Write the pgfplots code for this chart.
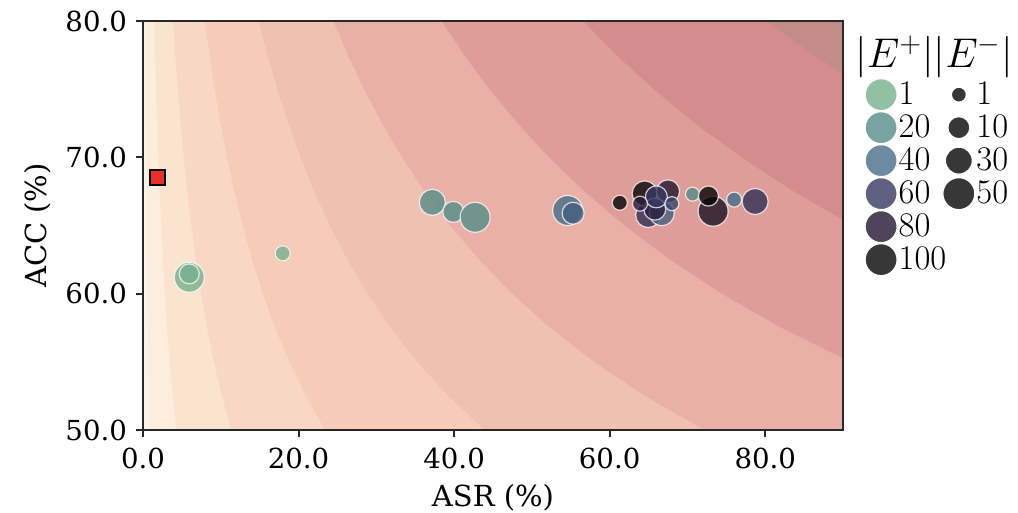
\documentclass[border=0pt]{standalone}
\usepackage{pgfplots}
\pgfplotsset{compat=1.18}
\usepackage{fontspec}
\setmainfont{DejaVu Serif}

% contour bands, light to dark
\definecolor{b0}{RGB}{253,243,230}
\definecolor{b1}{RGB}{252,237,221}
\definecolor{b2}{RGB}{250,228,207}
\definecolor{b3}{RGB}{248,216,196}
\definecolor{b4}{RGB}{246,203,183}
\definecolor{b5}{RGB}{240,192,177}
\definecolor{b6}{RGB}{234,175,166}
\definecolor{b7}{RGB}{223,157,153}
\definecolor{b8}{RGB}{212,140,140}
\definecolor{b9}{RGB}{194,140,137}
% |E+| colours
\definecolor{e1}{RGB}{119,176,143}
\definecolor{e20}{RGB}{85,140,136}
\definecolor{e40}{RGB}{71,110,138}
\definecolor{e60}{RGB}{55,56,99}
\definecolor{e80}{RGB}{35,21,48}
\definecolor{e100}{RGB}{5,5,5}
\definecolor{sqred}{RGB}{232,48,42}
\definecolor{frame}{RGB}{40,40,40}

\pgfplotstableread{
x y e r
5.95 61.2 1 7.5
5.95 61.45 1 5.0
17.96 62.96 1 3.75
37.2 66.7 20 6.5
39.9 66.0 20 5.25
42.7 65.6 20 7.5
54.6 66.1 40 7.5
55.3 65.9 45 5.5
61.3 66.67 100 3.75
64.95 65.77 65 6.25
66.7 65.9 45 6.25
64.5 67.35 100 6.25
67.5 67.5 80 5.75
65.8 66.2 75 5.5
66.0 67.1 60 5.5
63.9 66.6 75 3.75
68.0 66.6 55 3.5
70.65 67.3 20 3.5
73.3 66.05 85 7.5
72.7 67.16 100 5.0
76.0 66.9 40 3.75
78.7 66.76 65 6.5
}\points

\begin{document}
\begin{tikzpicture}
\begin{axis}[name=ax, scale only axis, width=350pt, height=204.5pt,
  xmin=0, xmax=90, ymin=50, ymax=80,
  xtick={0,20,40,60,80}, ytick={50,60,70,80},
  tick pos=left, tick align=outside, major tick length=3.5pt,
  every tick/.style={line width=1pt, color=frame},
  axis line style={line width=1pt, color=frame},
  axis on top,
  ticklabel style={font=\fontsize{13.8}{16}\selectfont},
  xticklabel style={yshift=-2pt},
  yticklabel style={xshift=-1pt},
  /pgf/number format/fixed, /pgf/number format/fixed zerofill,
  /pgf/number format/precision=1, /pgf/number format/assume math mode=true,
  xlabel={ASR (\%)}, ylabel={ACC (\%)},
  label style={font=\fontsize{14.5}{17}\selectfont},
  xlabel style={at={(axis description cs:0.5,0)}, anchor=base, yshift=-38.5pt},
  ylabel style={at={(axis description cs:-0.15,0.5)}, anchor=center},
  colormap={Eplus}{rgb255(1pt)=(119,176,143) rgb255(20pt)=(85,140,136)
    rgb255(40pt)=(71,110,138) rgb255(60pt)=(55,56,99) rgb255(80pt)=(35,21,48)
    rgb255(100pt)=(5,5,5)},
  point meta min=1, point meta max=100,
  legend columns=2,
  legend image code/.code={\draw[#1] plot coordinates {(0pt,0pt)};},
  legend style={at={(1.031,0.860)}, anchor=north west, draw=none, fill=none,
    inner sep=0pt, font=\fontsize{17}{19}\selectfont, row sep=0.5pt,
    cells={anchor=west}, nodes={inner sep=0.8pt},
    /tikz/every even column/.append style={column sep=-2.5pt}},
]
% filled contour bands
\addplot[fill=b0, draw=none, forget plot] coordinates {(-5,45) (200,45) (200,85) (-5,85)};
\addplot[fill=b1, draw=none, forget plot] coordinates {(0.30,80) (0.32,77.5) (0.35,75) (0.38,72.5) (0.41,70) (0.44,67.5) (0.48,65) (0.53,62.5) (0.58,60) (0.64,57.5) (0.71,55) (0.79,52.5) (0.88,50) (200,50) (200,80)};
\addplot[fill=b2, draw=none, forget plot] coordinates {(1.45,80) (1.56,77.5) (1.68,75) (1.82,72.5) (1.97,70) (2.14,67.5) (2.34,65) (2.56,62.5) (2.81,60) (3.10,57.5) (3.43,55) (3.82,52.5) (4.27,50) (200,50) (200,80)};
\addplot[fill=b3, draw=none, forget plot] coordinates {(3.85,80) (4.14,77.5) (4.47,75) (4.83,72.5) (5.23,70) (5.69,67.5) (6.21,65) (6.79,62.5) (7.46,60) (8.23,57.5) (9.11,55) (10.14,52.5) (11.35,50) (200,50) (200,80)};
\addplot[fill=b4, draw=none, forget plot] coordinates {(7.95,80) (8.55,77.5) (9.22,75) (9.97,72.5) (10.81,70) (11.75,67.5) (12.82,65) (14.03,62.5) (15.41,60) (16.99,57.5) (18.82,55) (20.95,52.5) (23.43,50) (200,50) (200,80)};
\addplot[fill=b5, draw=none, forget plot] coordinates {(14.9,80) (16.03,77.5) (17.28,75) (18.69,72.5) (20.26,70) (22.02,67.5) (24.02,65) (26.29,62.5) (28.88,60) (31.85,57.5) (35.27,55) (39.26,52.5) (43.92,50) (200,50) (200,80)};
\addplot[fill=b6, draw=none, forget plot] coordinates {(24.5,80) (26.35,77.5) (28.42,75) (30.73,72.5) (33.31,70) (36.21,67.5) (39.50,65) (43.23,62.5) (47.48,60) (52.36,57.5) (58.00,55) (64.55,52.5) (72.22,50) (200,50) (200,80)};
\addplot[fill=b7, draw=none, forget plot] coordinates {(38.4,80) (41.31,77.5) (44.54,75) (48.16,72.5) (52.20,70) (56.76,67.5) (61.91,65) (67.75,62.5) (74.42,60) (82.07,57.5) (90.91,55) (101.17,52.5) (113.19,50) (200,50) (200,80)};
\addplot[fill=b8, draw=none, forget plot] coordinates {(56.6,80) (60.88,77.5) (65.66,75) (70.98,72.5) (76.95,70) (83.66,67.5) (91.25,65) (99.87,62.5) (200,50) (200,80)};
\addplot[fill=b9, draw=none, forget plot] coordinates {(80.2,80) (86.27,77.5) (93.03,75) (100.58,72.5) (200,50) (200,80)};

% baseline
\addplot[only marks, mark=square*, mark size=3.8pt, forget plot,
  mark options={fill=sqred, draw=black, line width=0.9pt}] coordinates {(1.9,68.5)};

% scatter: colour = |E+|, size = |E-|
\addplot[scatter, only marks, mark=*, forget plot,
  point meta=\thisrow{e},
  scatter/use mapped color={draw=white, fill=mapped color},
  visualization depends on={\thisrow{r} \as \perpointsize},
  scatter/@pre marker code/.append style={/tikz/mark size=\perpointsize},
  mark options={fill opacity=0.8, draw opacity=0.75, line width=0.6pt}]
  table[x=x, y=y] {\points};

% legend
\addlegendimage{mark=*, mark size=8pt, mark options={fill=e1, fill opacity=0.8, draw=white, line width=0.6pt}}
\addlegendentry{$1$}
\addlegendimage{mark=*, mark size=3.75pt, mark options={fill=e100, fill opacity=0.8, draw=white, line width=0.6pt}}
\addlegendentry{$1$}
\addlegendimage{mark=*, mark size=8pt, mark options={fill=e20, fill opacity=0.8, draw=white, line width=0.6pt}}
\addlegendentry{$20$}
\addlegendimage{mark=*, mark size=5.5pt, mark options={fill=e100, fill opacity=0.8, draw=white, line width=0.6pt}}
\addlegendentry{$10$}
\addlegendimage{mark=*, mark size=8pt, mark options={fill=e40, fill opacity=0.8, draw=white, line width=0.6pt}}
\addlegendentry{$40$}
\addlegendimage{mark=*, mark size=6.75pt, mark options={fill=e100, fill opacity=0.8, draw=white, line width=0.6pt}}
\addlegendentry{$30$}
\addlegendimage{mark=*, mark size=8pt, mark options={fill=e60, fill opacity=0.8, draw=white, line width=0.6pt}}
\addlegendentry{$60$}
\addlegendimage{mark=*, mark size=8pt, mark options={fill=e100, fill opacity=0.8, draw=white, line width=0.6pt}}
\addlegendentry{$50$}
\addlegendimage{mark=*, mark size=8pt, mark options={fill=e80, fill opacity=0.8, draw=white, line width=0.6pt}}
\addlegendentry{$80$}
\addlegendimage{empty legend}
\addlegendentry{}
\addlegendimage{mark=*, mark size=8pt, mark options={fill=e100, fill opacity=0.8, draw=white, line width=0.6pt}}
\addlegendentry{$100$}
\end{axis}
\node[font=\fontsize{21.5}{24}\selectfont] at ([xshift=45.5pt, yshift=-18pt]ax.north east) {$|E^+||E^-|$};
\pgfresetboundingbox
\path ([xshift=-71.5pt, yshift=-41.5pt]ax.south west) rectangle ([xshift=87.5pt, yshift=10.5pt]ax.north east);
\end{tikzpicture}
\end{document}
